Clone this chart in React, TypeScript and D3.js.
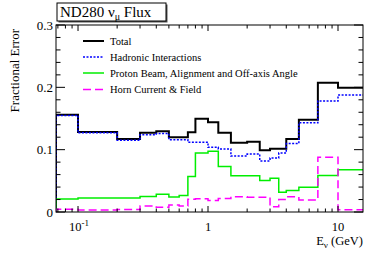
import React, { useEffect, useRef } from 'react';
import * as d3 from 'd3';

// bin edges in GeV (first/last bins run past the frame and are clipped)
const binEdges = [0.05, 0.1, 0.2, 0.3, 0.4, 0.5, 0.6, 0.7, 0.8, 1.0, 1.2, 1.5, 2.0, 2.5, 3.0, 3.5, 4.0, 5.0, 7.0, 10.0, 30.0];

const totalErr = [0.156, 0.1285, 0.117, 0.127, 0.1295, 0.12, 0.12, 0.128, 0.1495, 0.144, 0.127, 0.111, 0.1127, 0.099, 0.1016, 0.1016, 0.117, 0.148, 0.2075, 0.1995];
const hadronErr = [0.155, 0.127, 0.115, 0.124, 0.126, 0.116, 0.116, 0.112, 0.112, 0.1037, 0.101, 0.09, 0.093, 0.082, 0.0866, 0.0946, 0.1097, 0.143, 0.178, 0.1876];
const beamErr = [0.021, 0.0226, 0.0226, 0.0247, 0.0285, 0.0242, 0.0263, 0.057, 0.0946, 0.0973, 0.073, 0.058, 0.058, 0.0505, 0.0543, 0.0317, 0.0344, 0.0398, 0.0586, 0.0677];
const hornErr = [0.0043, 0.0032, 0.004, 0.0097, 0.0075, 0.0113, 0.0097, 0.0204, 0.0213, 0.0183, 0.0215, 0.0245, 0.0238, 0.0237, 0.0086, 0.02, 0.0245, 0.0194, 0.088, 0.0035];

const seriesNames = ['Total', 'Hadronic Interactions', 'Proton Beam, Alignment and Off-axis Angle', 'Horn Current & Field'];
const yTickValues = [0, 0.1, 0.2, 0.3];
const yTickLabels = ['0', '0.1', '0.2', '0.3'];
const xMajorTicks = [0.1, 1, 10];

const FONT = "'Liberation Serif', 'Times New Roman', 'DejaVu Serif', serif";

const App = () => {
  const svgRef = useRef<SVGSVGElement | null>(null);

  useEffect(() => {
    const W = 374, H = 253;
    const left = 56, right = 363, top = 25, bottom = 212;

    const svg = d3.select(svgRef.current);
    svg.selectAll('*').remove();

    const x = d3.scaleLog().domain([0.0677, 15.57]).range([left, right]).clamp(true);
    const y = d3.scaleLinear().domain([0, 0.3]).range([bottom, top]);

    svg.append('rect').attr('width', W).attr('height', H).attr('fill', '#fff');

    const series = [
      { vals: totalErr, color: '#000', width: 2, dash: null },
      { vals: hadronErr, color: '#0000ff', width: 1.5, dash: '2,1.5' },
      { vals: beamErr, color: '#00ee00', width: 1.5, dash: null },
      { vals: hornErr, color: '#ff00ff', width: 1.5, dash: '8,4' },
    ];

    svg.append('clipPath').attr('id', 'frame-clip')
      .append('rect').attr('x', left).attr('y', top).attr('width', right - left).attr('height', bottom - top);

    const line = d3.line<[number, number]>().x(d => x(d[0])).y(d => y(d[1]));

    // histograms as step outlines
    series.forEach(s => {
      const pts: [number, number][] = [[binEdges[0], 0]];
      s.vals.forEach((v, i) => {
        pts.push([binEdges[i], v]);
        pts.push([binEdges[i + 1], v]);
      });
      svg.append('path')
        .attr('d', line(pts))
        .attr('fill', 'none')
        .attr('stroke', s.color)
        .attr('stroke-width', s.width)
        .attr('stroke-dasharray', s.dash)
        .attr('clip-path', 'url(#frame-clip)');
    });

    // frame
    svg.append('rect')
      .attr('x', left).attr('y', top).attr('width', right - left).attr('height', bottom - top)
      .attr('fill', 'none').attr('stroke', '#000').attr('stroke-width', 1);

    // y ticks, both sides
    const yMinor = d3.range(0, 0.3001, 0.02);
    yMinor.forEach(v => {
      const major = yTickValues.some(t => Math.abs(t - v) < 1e-6);
      const len = major ? 9 : 4.5;
      svg.append('line').attr('x1', left).attr('x2', left + len).attr('y1', y(v)).attr('y2', y(v)).attr('stroke', '#000');
      svg.append('line').attr('x1', right).attr('x2', right - len).attr('y1', y(v)).attr('y2', y(v)).attr('stroke', '#000');
    });

    const txt = (sel: any, size: number) =>
      sel.style('font-family', FONT).style('font-size', size + 'px').attr('fill', '#000');

    yTickValues.forEach((v, i) => {
      txt(svg.append('text'), 13).attr('x', 53).attr('y', y(v) + 4.5)
        .attr('text-anchor', 'end')
        .text(yTickLabels[i]);
    });

    // x ticks (log), top and bottom
    const xTicks: number[] = [];
    [0.01, 0.1, 1, 10].forEach(dec => {
      for (let k = 1; k < 10; k++) xTicks.push(dec * k);
    });
    xTicks.filter(v => v >= 0.0677 && v <= 15.57).forEach(v => {
      const major = xMajorTicks.some(t => Math.abs(t - v) < 1e-9);
      const len = major ? 6 : 3.5;
      svg.append('line').attr('x1', x(v)).attr('x2', x(v)).attr('y1', bottom).attr('y2', bottom - len).attr('stroke', '#000');
      svg.append('line').attr('x1', x(v)).attr('x2', x(v)).attr('y1', top).attr('y2', top + len).attr('stroke', '#000');
    });

    const t01 = txt(svg.append('text'), 12.5).attr('x', x(0.1) + 1).attr('y', 230.5).attr('text-anchor', 'middle');
    t01.append('tspan').text('10');
    t01.append('tspan').attr('dy', -5).style('font-size', '9px').text('-1');
    txt(svg.append('text'), 12.5).attr('x', x(1)).attr('y', 230.5).attr('text-anchor', 'middle').text('1');
    txt(svg.append('text'), 12.5).attr('x', x(10)).attr('y', 230.5).attr('text-anchor', 'middle').text('10');

    // axis titles
    const xt = txt(svg.append('text'), 12.5).attr('x', right).attr('y', 245).attr('text-anchor', 'end');
    xt.append('tspan').text('E');
    xt.append('tspan').attr('dy', 3).style('font-size', '9px').text('ν');
    xt.append('tspan').attr('dy', -3).text(' (GeV)');

    txt(svg.append('text'), 13)
      .attr('transform', `translate(19,${top + 4}) rotate(-90)`)
      .attr('text-anchor', 'end')
      .text('Fractional Error');

    // title box
    svg.append('rect').attr('x', 58.5).attr('y', 4.5).attr('width', 109).attr('height', 18).attr('fill', '#555');
    svg.append('rect').attr('x', 57).attr('y', 3).attr('width', 109).attr('height', 18)
      .attr('fill', '#fff').attr('stroke', '#000').attr('stroke-width', 1);
    const tt = txt(svg.append('text'), 15).attr('x', 60).attr('y', 17);
    tt.append('tspan').text('ND280 ν');
    tt.append('tspan').attr('dy', 3).style('font-size', '10px').text('μ');
    tt.append('tspan').attr('dy', -3).text(' Flux');

    // legend
    const legY = [41, 57, 73, 89.5];
    series.forEach((s, i) => {
      svg.append('line').attr('x1', 83).attr('x2', 104).attr('y1', legY[i]).attr('y2', legY[i])
        .attr('stroke', s.color).attr('stroke-width', s.width).attr('stroke-dasharray', s.dash);
      txt(svg.append('text'), 10.5).attr('x', 110).attr('y', legY[i] + 3.8)
        .text(seriesNames[i]);
    });
  }, []);

  return (
    <svg
      ref={svgRef}
      width={374}
      height={253}
      style={{ position: 'absolute', left: 0, top: 0, display: 'block' }}
    ></svg>
  );
};

export default App;
